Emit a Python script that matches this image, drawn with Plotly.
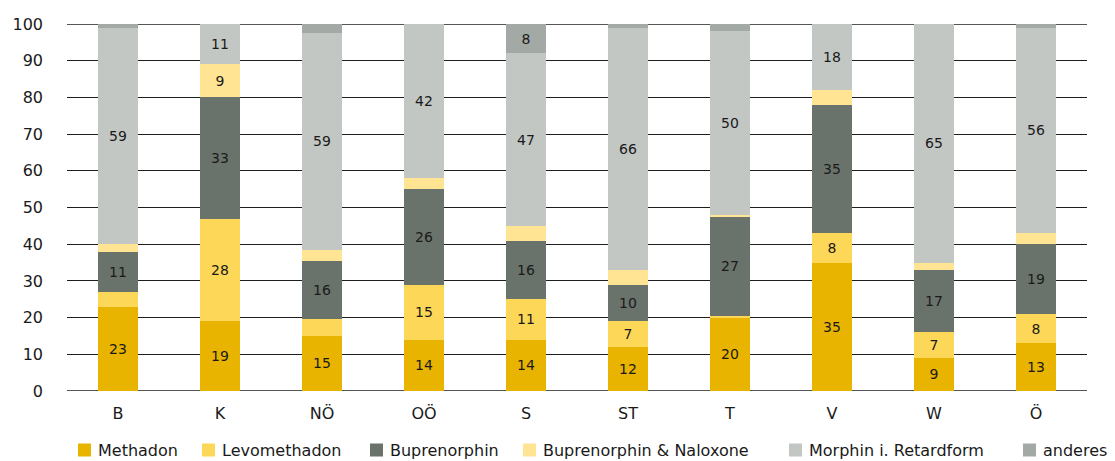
import plotly.graph_objects as go

# Bundesländer and Austria total
regions = ["B", "K", "NÖ", "OÖ", "S", "ST", "T", "V", "W", "Ö"]

# Share of substitution drugs in percent
methadon = [23, 19, 15, 14, 14, 12, 20, 35, 9, 13]
levomethadon = [4, 28, 4.5, 15, 11, 7, 0.5, 8, 7, 8]
buprenorphin = [11, 33, 16, 26, 16, 10, 27, 35, 17, 19]
bupr_naloxone = [2, 9, 3, 3, 4, 4, 0.5, 4, 2, 3]
morphin = [59, 11, 59, 42, 47, 66, 50, 18, 65, 56]
anderes = [1, 0, 2.5, 0, 8, 1, 2, 0, 0, 1]

series_names = ["Methadon", "Levomethadon", "Buprenorphin",
                "Buprenorphin & Naloxone", "Morphin i. Retardform", "anderes"]
series_values = [methadon, levomethadon, buprenorphin, bupr_naloxone, morphin, anderes]
series_colors = ["#E8B400", "#FDD757", "#6A736B", "#FFE493", "#C2C7C4", "#A3AAA6"]

FONT = "DejaVu Sans"
TEXT = "#1a1a1a"

# Figure geometry (pixels)
W, H = 1115, 461
ML, MR, MT, MB = 67, 28, 24, 70
PW, PH = W - ML - MR, H - MT - MB

fig = go.Figure()
for name, values, color in zip(series_names, series_values, series_colors):
    labels = [f"{v:g}" if v >= 7 else "" for v in values]
    fig.add_trace(go.Bar(
        name=name,
        x=regions,
        y=values,
        marker=dict(color=color, line=dict(width=0)),
        text=labels,
        textposition="inside",
        insidetextanchor="middle",
        textangle=0,
        textfont=dict(family=FONT, size=14, color=TEXT),
        hoverinfo="skip",
        showlegend=False,
    ))

# Legend row below the plot: swatch + label for each series
legend_text_x = [97, 221, 389, 542, 808, 1042]
legend_y = 450
sw = 13
for name, color, tx in zip(series_names, series_colors, legend_text_x):
    x0 = (tx - 6 - sw - ML) / PW
    x1 = (tx - 6 - ML) / PW
    y0 = (MT + PH - (legend_y + sw / 2)) / PH
    y1 = (MT + PH - (legend_y - sw / 2)) / PH
    fig.add_shape(type="rect", xref="paper", yref="paper",
                  x0=x0, x1=x1, y0=y0, y1=y1,
                  fillcolor=color, line=dict(width=0))
    fig.add_annotation(xref="paper", yref="paper",
                       x=(tx - ML) / PW, y=(MT + PH - legend_y) / PH,
                       xanchor="left", yanchor="middle", showarrow=False,
                       borderpad=0,
                       text=name, font=dict(family=FONT, size=16, color=TEXT))

fig.update_layout(
    barmode="stack",
    bargap=0.6,
    width=W,
    height=H,
    margin=dict(l=ML, r=MR, t=MT, b=MB, autoexpand=False),
    plot_bgcolor="white",
    paper_bgcolor="white",
    font=dict(family=FONT, size=16, color=TEXT),
    showlegend=False,
)

fig.update_yaxes(
    range=[0, 100],
    dtick=10,
    showgrid=True,
    gridcolor="#1e1e1e",
    gridwidth=1,
    zeroline=False,
    showline=False,
    ticks="",
    ticklabelstandoff=23,
    tickfont=dict(family=FONT, size=16, color=TEXT),
    layer="below traces",
)
fig.update_xaxes(
    showgrid=False,
    showline=False,
    ticks="",
    ticklabelstandoff=11,
    tickfont=dict(family=FONT, size=16, color=TEXT),
)

# Heavier rules at 0 and 100
for yv in (0, 100):
    fig.add_shape(type="line", xref="paper", yref="y", x0=0, x1=1, y0=yv, y1=yv,
                  line=dict(color="#555555", width=2), layer="below")

fig.write_html("out.html")
